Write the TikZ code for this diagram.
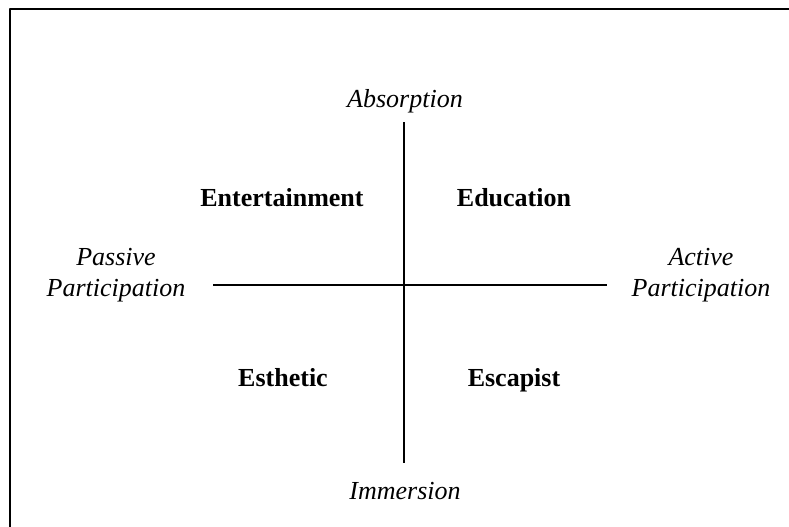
\documentclass[tikz,border=0pt]{standalone}
\usepackage{fontspec}
\setmainfont{Liberation Serif}
\begin{document}
\begin{tikzpicture}[x=0.75pt,y=-0.75pt, line join=round, font=\fontsize{19.5}{23}\selectfont]
	\tikzset{realm/.style={font=\fontsize{19.5}{23}\selectfont\bfseries, anchor=base},
		axislabel/.style={font=\fontsize{19.5}{23}\selectfont\itshape, align=center}}
	\useasboundingbox (0,0) rectangle (789,526);
	\def\cx{404} \def\cy{285}
	% frame, right and bottom sides fall off the page
	\begin{scope}
		\clip (0,0) rectangle (789,526);
		\draw[line width=2pt] (10,9) rectangle (800,540);
	\end{scope}
	% axes
	\draw[line width=1.1pt] (\cx,122)--(\cx,463);
	\draw[line width=1.1pt] (213,\cy)--(607,\cy);
	\node[axislabel, anchor=base] (absorption) at (405,107) {Absorption};
	\node[axislabel, anchor=base] (immersion) at (405,499) {Immersion};
	\node[axislabel] (passive) at (116,275) {Passive\\Participation};
	\node[axislabel] (active) at (701,275) {Active\\Participation};
	% the four realms
	\node[realm] (entertainment) at (282,206) {Entertainment};
	\node[realm] (education) at (514,206) {Education};
	\node[realm] (esthetic) at (283,386) {Esthetic};
	\node[realm] (escapist) at (514,386) {Escapist};
\end{tikzpicture}
\end{document}
